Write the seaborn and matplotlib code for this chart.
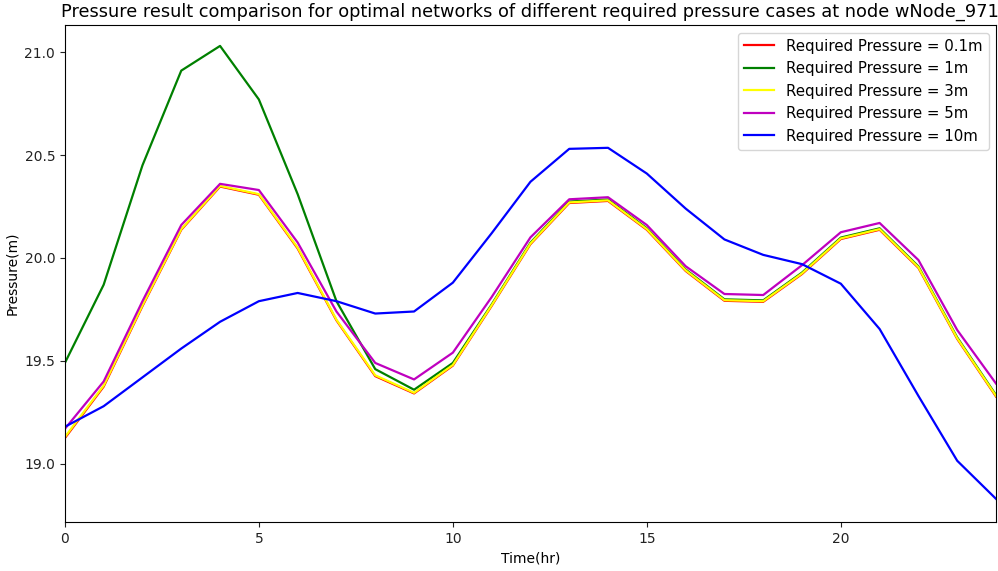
import matplotlib
matplotlib.use("Agg")
import matplotlib.pyplot as plt
import seaborn as sns
import pandas as pd

hours = list(range(25))
p_01 = [19.125, 19.375, 19.766, 20.137, 20.347, 20.307, 20.046, 19.697, 19.426, 19.342, 19.477, 19.767, 20.067,
        20.267, 20.277, 20.137, 19.937, 19.792, 19.787, 19.922, 20.092, 20.137, 19.952, 19.607, 19.327]
p_1 = [19.49, 19.87, 20.45, 20.91, 21.03, 20.77, 20.31, 19.79, 19.46, 19.36, 19.49, 19.774, 20.074,
       20.274, 20.284, 20.144, 19.944, 19.799, 19.794, 19.929, 20.099, 20.144, 19.959, 19.614, 19.334]
p_3 = [19.13, 19.38, 19.77, 20.14, 20.35, 20.31, 20.05, 19.70, 19.43, 19.345, 19.48, 19.77, 20.07,
       20.27, 20.28, 20.14, 19.94, 19.795, 19.79, 19.925, 20.095, 20.14, 19.955, 19.61, 19.33]
p_5 = [19.17, 19.40, 19.79, 20.16, 20.36, 20.33, 20.075, 19.74, 19.49, 19.41, 19.54, 19.81, 20.10,
       20.285, 20.295, 20.16, 19.96, 19.825, 19.82, 19.965, 20.125, 20.17, 19.99, 19.65, 19.39]
p_10 = [19.18, 19.28, 19.42, 19.56, 19.69, 19.79, 19.83, 19.79, 19.73, 19.74, 19.88, 20.12, 20.37,
        20.53, 20.535, 20.41, 20.24, 20.09, 20.015, 19.97, 19.875, 19.655, 19.33, 19.015, 18.83]

labels = ["Required Pressure = 0.1m", "Required Pressure = 1m", "Required Pressure = 3m",
          "Required Pressure = 5m", "Required Pressure = 10m"]
colors = ["red", "green", "yellow", "m", "blue"]
series = [p_01, p_1, p_3, p_5, p_10]

df = pd.concat([pd.DataFrame({"Time(hr)": hours, "Pressure(m)": s, "case": lab})
                for s, lab in zip(series, labels)], ignore_index=True)

fig = plt.figure(figsize=(9.98, 5.71), dpi=100)
ax = fig.add_axes([0.065, 0.086, 0.933, 0.870])
sns.lineplot(data=df, x="Time(hr)", y="Pressure(m)", hue="case", hue_order=labels,
             palette=dict(zip(labels, colors)), linewidth=1.6, ax=ax)
ax.set_xlim(0, 24)
ax.set_ylim(18.718, 21.131)
ax.set_xticks([0, 5, 10, 15, 20])
ax.set_yticks([19.0, 19.5, 20.0, 20.5, 21.0])
ax.tick_params(labelsize=10, colors="#222222")
ax.set_xlabel("Time(hr)", fontsize=10)
ax.set_ylabel("Pressure(m)", fontsize=10)
ax.set_title("Pressure result comparison for optimal networks of different required pressure cases at node wNode_971",
             fontsize=12.8)
leg = ax.legend(loc="upper right", fontsize=10.8, title=None)
fig.savefig("out.png", dpi=100)
